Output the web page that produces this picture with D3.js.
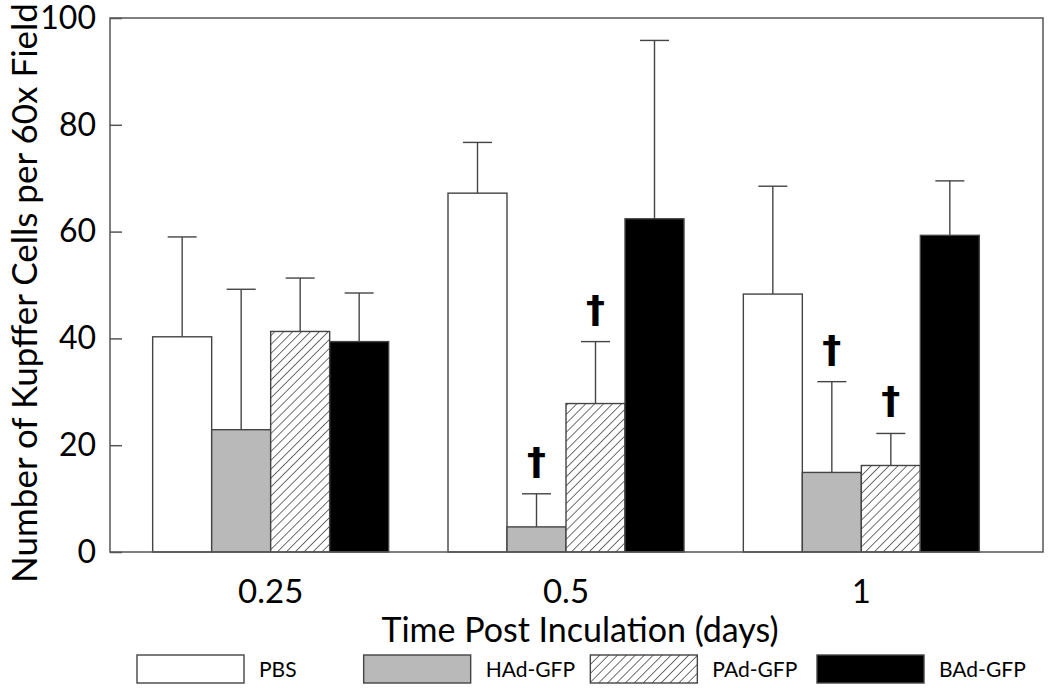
<!DOCTYPE html>
<html>
<head>
<meta charset="utf-8">
<script src="https://cdn.jsdelivr.net/npm/d3@7"></script>
<style>
  body { margin: 0; background: #fff; }
  text { font-family: Lato, "Open Sans", sans-serif; fill: #000; }
</style>
</head>
<body>
<svg id="chart" width="1050" height="688"></svg>
<script>
"use strict";

// time points (days) and treatment groups
var times = ["0.25", "0.5", "1"];
var groups = ["PBS", "HAd-GFP", "PAd-GFP", "BAd-GFP"];

// mean Kupffer cells per field, one array per group (same order as times)
var pbsMean = [40.3, 67.2, 48.3];
var hadMean = [22.9, 4.7, 14.9];
var padMean = [41.3, 27.8, 16.2];
var badMean = [39.4, 62.4, 59.3];

// upper error (SD)
var pbsErr = [18.7, 9.5, 20.2];
var hadErr = [26.3, 6.2, 17.0];
var padErr = [10.0, 11.6, 6.0];
var badErr = [9.1, 33.4, 10.2];

// significance daggers, flagged per group
var pbsSig = [false, false, false];
var hadSig = [false, true, true];
var padSig = [false, true, true];
var badSig = [false, false, false];

var yTicks = [0, 20, 40, 60, 80, 100];

var means = [pbsMean, hadMean, padMean, badMean];
var errs = [pbsErr, hadErr, padErr, badErr];
var sigs = [pbsSig, hadSig, padSig, badSig];

var bars = [];
groups.forEach(function (g, gi) {
    times.forEach(function (t, ti) {
        bars.push({ group: g, time: t, mean: means[gi][ti], err: errs[gi][ti], sig: sigs[gi][ti] });
    });
});

var svg = d3.select("#chart");
var plot = { left: 110, right: 1043, top: 18, bottom: 552 };
var stroke = "#444";

var x = d3.scaleBand()
    .domain(times)
    .range([plot.left + 13, plot.right - 34]);

var xInner = d3.scaleBand()
    .domain(groups)
    .range([0, 236]);

var y = d3.scaleLinear()
    .domain([0, 100])
    .range([plot.bottom, plot.top]);

var fills = {
    "PBS": "#fff",
    "HAd-GFP": "#b9b9b9",
    "PAd-GFP": "url(#hatch)",
    "BAd-GFP": "#000"
};

// hatch pattern for PAd-GFP
var defs = svg.append("defs");
var pat = defs.append("pattern")
    .attr("id", "hatch")
    .attr("patternUnits", "userSpaceOnUse")
    .attr("width", 6.3)
    .attr("height", 6.3)
    .attr("patternTransform", "rotate(45)");
pat.append("rect")
    .attr("width", 6.3).attr("height", 6.3)
    .attr("fill", "#fff");
pat.append("line")
    .attr("x1", 0).attr("y1", 0)
    .attr("x2", 0).attr("y2", 6.3)
    .attr("stroke", "#222")
    .attr("stroke-width", 1.3);

function barX(d) {
    return x(d.time) + (x.bandwidth() - 236) / 2 + xInner(d.group);
}
function barMid(d) {
    return barX(d) + xInner.bandwidth() / 2;
}

// error bars (drawn first so the bar covers the lower part)
var eb = svg.append("g")
    .attr("stroke", stroke)
    .attr("stroke-width", 1.4);

eb.selectAll("line.stem")
    .data(bars)
    .enter()
    .append("line")
    .attr("class", "stem")
    .attr("x1", barMid).attr("x2", barMid)
    .attr("y1", function (d) { return y(d.mean); })
    .attr("y2", function (d) { return y(d.mean + d.err); });

eb.selectAll("line.cap")
    .data(bars)
    .enter()
    .append("line")
    .attr("class", "cap")
    .attr("x1", function (d) { return barMid(d) - 14.5; })
    .attr("x2", function (d) { return barMid(d) + 14.5; })
    .attr("y1", function (d) { return y(d.mean + d.err); })
    .attr("y2", function (d) { return y(d.mean + d.err); });

svg.append("g")
    .selectAll("rect")
    .data(bars)
    .enter()
    .append("rect")
    .attr("x", barX)
    .attr("y", function (d) { return y(d.mean); })
    .attr("width", xInner.bandwidth())
    .attr("height", function (d) { return y(0) - y(d.mean); })
    .attr("fill", function (d) { return fills[d.group]; })
    .attr("stroke", stroke)
    .attr("stroke-width", 1.4);

// daggers
svg.append("g")
    .selectAll("text")
    .data(bars.filter(function (d) { return d.sig; }))
    .enter()
    .append("text")
    .attr("x", barMid)
    .attr("y", function (d) { return y(d.mean + d.err) - 20; })
    .attr("text-anchor", "middle")
    .style("font-family", "'DejaVu Sans', sans-serif")
    .style("font-weight", "bold")
    .style("font-size", "38px")
    .text("\u2020");

// frame
svg.append("rect")
    .attr("x", plot.left)
    .attr("y", plot.top)
    .attr("width", plot.right - plot.left)
    .attr("height", plot.bottom - plot.top)
    .attr("fill", "none")
    .attr("stroke", "#555")
    .attr("stroke-width", 1.5);

// y axis
var yAxis = svg.append("g")
    .attr("transform", "translate(" + plot.left + ",0)")
    .call(d3.axisLeft(y).tickValues(yTicks).tickSize(-12).tickPadding(14));
yAxis.select(".domain").remove();
yAxis.selectAll("line").attr("stroke", "#555").attr("stroke-width", 1.5);
yAxis.selectAll("text")
    .style("font-family", "Lato, 'Open Sans', sans-serif")
    .style("font-size", "32px");

// x axis
var xAxis = svg.append("g")
    .attr("transform", "translate(0," + plot.bottom + ")")
    .call(d3.axisBottom(x).tickSize(0).tickPadding(28));
xAxis.select(".domain").remove();
xAxis.selectAll("text")
    .style("font-family", "Lato, 'Open Sans', sans-serif")
    .style("font-size", "33px");

// axis titles
svg.append("text")
    .attr("transform", "translate(37," + 293 + ") rotate(-90)")
    .attr("text-anchor", "middle")
    .style("font-size", "35px")
    .text("Number of Kupffer Cells per 60x Field");

svg.append("text")
    .attr("x", 580)
    .attr("y", 642)
    .attr("text-anchor", "middle")
    .style("font-size", "34px")
    .text("Time Post Inculation (days)");

// legend
var legX = d3.scalePoint()
    .domain(groups)
    .range([137, 817]);

var leg = svg.append("g")
    .selectAll("g")
    .data(groups)
    .enter()
    .append("g")
    .attr("transform", function (d) { return "translate(" + legX(d) + ",655)"; });

leg.append("rect")
    .attr("width", 107)
    .attr("height", 28)
    .attr("fill", function (d) { return fills[d]; })
    .attr("stroke", stroke)
    .attr("stroke-width", 1.4);

leg.append("text")
    .attr("x", 122)
    .attr("y", 22)
    .style("font-family", "Lato, 'Open Sans', sans-serif")
    .style("font-size", "21px")
    .text(function (d) { return d; });
</script>
</body>
</html>
